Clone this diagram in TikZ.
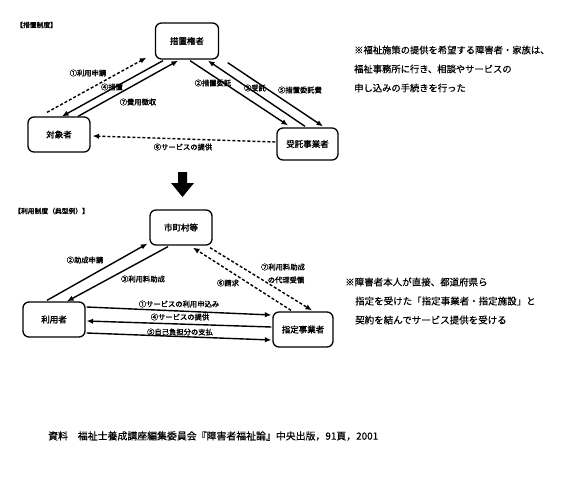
\documentclass[tikz,border=0pt]{standalone}
\usepackage{fontspec}
\usetikzlibrary{arrows.meta,calc}
\newfontfamily\jp{Noto Sans CJK JP}[FakeBold=0.4]
\newfontfamily\jpb{Noto Sans CJK JP}[FakeBold=1.8]
\begin{document}
\begin{tikzpicture}[x=1pt,y=-1pt,
 box/.style={draw,rounded corners=6pt,line width=1.3pt,minimum width=62pt,minimum height=35pt,font=\jpb\fontsize{8.5}{10}\selectfont,inner sep=0pt},
 lab/.style={font=\jpb\fontsize{7.3}{8}\selectfont,inner sep=0.5pt},
 conn/.style={line width=1.4pt,-{Latex[length=6.5pt,width=5.5pt]}},
 dconn/.style={conn,dash pattern=on 3pt off 2pt},
 note/.style={font=\jp\fontsize{9.3}{10}\selectfont,anchor=west,inner sep=0pt},
 hdr/.style={font=\jpb\fontsize{6.8}{8}\selectfont,anchor=west,inner sep=0pt}]
\useasboundingbox (0,0) rectangle (564,479);
\fill[white] (0,0) rectangle (564,479);

% ---------- top: 措置制度 ----------
\node[hdr] (h1) at (16,25) {【措置制度】};
\node[box,minimum width=63pt,minimum height=36pt] (A) at (187,41) {措置権者};
\node[box] (B) at (59,134.5) {対象者};
\node[box,minimum width=61pt,minimum height=32pt] (C) at (307.5,144) {受託事業者};

\draw[dconn] ($(B.north)+(-12,-4)$) -- ($(A.south west)+(-8.5,-2)$);
\draw[conn] ($(A.south)+(-24,1)$) -- ($(B.north)+(3,0)$);
\draw[conn] ($(B.north)+(19,0)$) -- ($(A.south)+(-9,1)$);
\draw[conn] ($(A.south)+(3,1)$) -- ($(C.north)+(-19.5,-2)$);
\draw[conn] ($(C.north)+(-2.5,-1)$) -- ($(A.south)+(21,1)$);
\draw[conn] ($(A.south east)+(8.5,3)$) -- ($(C.north)+(15.5,-1)$);
\draw[dconn] ($(C.west)+(-1,-2)$) -- ($(B.east)+(2,1.5)$);

\node[lab] (l1) at (88,73) {①利用申請};
\node[lab] (l4) at (112,87) {④措置};
\node[lab] (l7) at (138,102) {⑦費用徴収};
\node[lab] (l2) at (213,83) {②措置委託};
\node[lab] (l3) at (255,88) {③受託};
\node[lab] (l5) at (300,90) {⑤措置委託費};
\node[lab] (l6) at (183,147) {⑥サービスの提供};

\node[note] (n1) at (354,50) {※福祉施策の提供を希望する障害者・家族は、};
\node[note] (n2) at (354,69) {福祉事務所に行き、相談やサービスの};
\node[note] (n3) at (354,88) {申し込みの手続きを行った};

% ---------- big arrow ----------
\fill (178,172) -- (187,172) -- (187,183) -- (194,183) -- (182.5,197) -- (171,183) -- (178,183) -- cycle;

% ---------- bottom: 利用制度 ----------
\node[hdr] (h2) at (14,211) {【利用制度（典型例）】};
\node[box] (D) at (181,227.5) {市町村等};
\node[box] (E) at (54,319.5) {利用者};
\node[box,minimum width=60pt] (F) at (303,329.5) {指定事業者};

\draw[conn] ($(E.north)+(-7,-1)$) -- ($(D.south west)+(-2,-2)$);
\draw[conn] ($(D.south)+(-13,1)$) -- ($(E.north)+(13,0)$);
\draw[dconn] ($(F.north)+(-12,-1)$) -- ($(D.south)+(12,2)$);
\draw[dconn] ($(D.south)+(29,2)$) -- ($(F.north)+(9,-1)$);
\draw[conn] ($(E.east)+(1,-12.5)$) -- ($(F.west)+(-1,-14.5)$);
\draw[conn] ($(F.west)+(-1,-2.5)$) -- ($(E.east)+(1,1.5)$);
\draw[conn] ($(E.east)+(1,13.5)$) -- ($(F.west)+(-1,10.5)$);

\node[lab] (m2) at (85,260) {②助成申請};
\node[lab] (m3) at (143,279) {③利用料助成};
\node[lab] (m6) at (228,283) {⑥請求};
\node[lab] (m7a) at (283,267) {⑦利用料助成};
\node[lab] (m7b) at (286,280) {の代理受領};
\node[lab] (m1) at (179,304) {①サービスの利用申込み};
\node[lab] (m4) at (180,317) {④サービスの提供};
\node[lab] (m5) at (180,332) {⑤自己負担分の支払};

\node[note,font=\jp\fontsize{9.5}{10}\selectfont] (p1) at (345,282) {※障害者本人が直接、都道府県ら};
\node[note,font=\jp\fontsize{9.5}{10}\selectfont] (p2) at (355,301) {指定を受けた「指定事業者・指定施設」と};
\node[note,font=\jp\fontsize{9.5}{10}\selectfont] (p3) at (355,320) {契約を結んでサービス提供を受ける};

% ---------- source ----------
\node[note,font=\jp\fontsize{9.9}{11}\selectfont] (src) at (48,436) {資料　福祉士養成講座編集委員会『障害者福祉論』中央出版，91頁，2001};
\end{tikzpicture}
\end{document}
